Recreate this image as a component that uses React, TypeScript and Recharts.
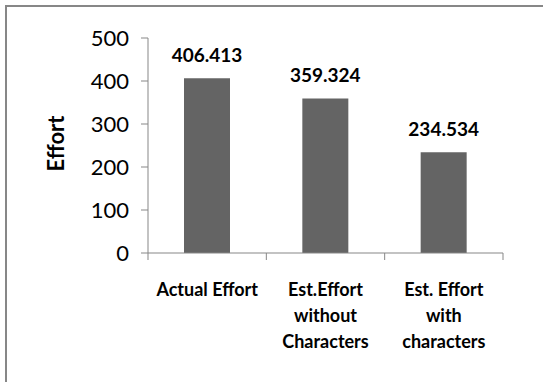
import { BarChart, Bar, XAxis, YAxis, LabelList } from 'recharts';

const categories = ['Actual Effort', 'Est.Effort without Characters', 'Est. Effort with characters'];
const categoryLines = [['Actual Effort'], ['Est.Effort', 'without', 'Characters'], ['Est. Effort', 'with', 'characters']];
const effortValues = [406.413, 359.324, 234.534];
const yTicks = [0, 100, 200, 300, 400, 500];

const data = categories.map((name, i) => ({ name, effort: effortValues[i] }));

const FONT = 'Lato, "Open Sans", sans-serif';
const AXIS = '#878787';

// category label plus the tick marks on the category boundaries
function CategoryTick(props: any) {
  const { x, y, index, width, visibleTicksCount } = props;
  const band = width / (visibleTicksCount || categories.length);
  const lines = categoryLines[index] || [];
  const last = index === categories.length - 1;
  return (
    <g>
      <line x1={x - band / 2} x2={x - band / 2} y1={y} y2={y + 7} stroke={AXIS} />
      {last && <line x1={x + band / 2} x2={x + band / 2} y1={y} y2={y + 7} stroke={AXIS} />}
      <text x={x} y={y} textAnchor="middle" fontFamily={FONT} fontWeight="bold" fontSize={18} fill="#000">
        {lines.map((l, i) => (
          <tspan key={i} x={x} dy={i === 0 ? 43 : 26}>
            {l}
          </tspan>
        ))}
      </text>
    </g>
  );
}

export default function App() {
  return (
    <div>
      <div
        style={{
          position: 'fixed',
          left: 5,
          top: 5,
          right: 0,
          bottom: 0,
          borderTop: `2px solid ${AXIS}`,
          borderLeft: `2px solid ${AXIS}`,
          background: '#fff',
        }}
      />
      <div style={{ position: 'fixed', left: 0, top: 0 }}>
        <BarChart width={543} height={382} data={data} margin={{ top: 38, right: 40, bottom: 0, left: 68 }}>
          <XAxis
            dataKey="name"
            stroke={AXIS}
            tickLine={false}
            tickSize={0}
            tickMargin={0}
            tick={<CategoryTick />}
            interval={0}
            height={129}
          />
          <YAxis
            domain={[0, 500]}
            ticks={yTicks}
            width={80}
            stroke={AXIS}
            tickSize={7}
            tickMargin={12}
            tick={{ fill: '#000', fontSize: 22, fontFamily: FONT }}
            label={({ viewBox }: any) => (
              <text
                x={viewBox.x - 13}
                y={viewBox.y + viewBox.height / 2 - 2}
                transform={`rotate(-90 ${viewBox.x - 13} ${viewBox.y + viewBox.height / 2 - 2})`}
                textAnchor="middle"
                dominantBaseline="central"
                fontFamily={FONT}
                fontWeight="bold"
                fontSize={22}
                fill="#000"
              >
                Effort
              </text>
            )}
          />
          <Bar dataKey="effort" fill="#646464" barSize={46} isAnimationActive={false}>
            <LabelList
              dataKey="effort"
              position="top"
              offset={16}
              fill="#000"
              fontFamily={FONT}
              fontWeight="bold"
              fontSize={19}
            />
          </Bar>
        </BarChart>
      </div>
    </div>
  );
}
